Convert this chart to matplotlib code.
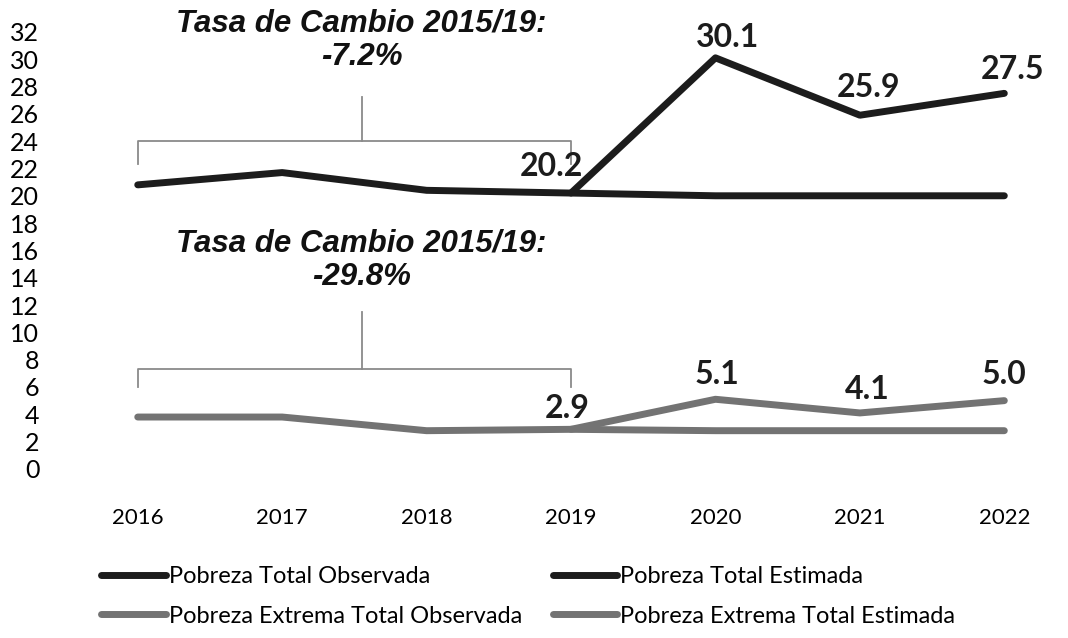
import numpy as np
import matplotlib.pyplot as plt

# data
years = [2016, 2017, 2018, 2019, 2020, 2021, 2022]
total_obs = [20.8, 21.7, 20.4, 20.2, 20.0, 20.0, 20.0]
total_est = [np.nan, np.nan, np.nan, 20.2, 30.1, 25.9, 27.5]
ext_obs = [3.8, 3.8, 2.8, 2.9, 2.8, 2.8, 2.8]
ext_est = [np.nan, np.nan, np.nan, 2.9, 5.1, 4.1, 5.0]
yticks = list(range(0, 33, 2))

dark = '#1c1c1c'
gray = '#737373'

plt.rcParams['font.family'] = ['Lato', 'DejaVu Sans']

fig = plt.figure(figsize=(10.68, 6.38), dpi=100)
ax = fig.add_axes([0.055, 0.265, 0.935, 0.685])

l1, = ax.plot(years, total_obs, color=dark, lw=5, solid_capstyle='round')
l2, = ax.plot(years, total_est, color=dark, lw=5, solid_capstyle='round')
l3, = ax.plot(years, ext_obs, color=gray, lw=5, solid_capstyle='round')
l4, = ax.plot(years, ext_est, color=gray, lw=5, solid_capstyle='round')

# data labels (offsets in points)
lab_kw = dict(textcoords='offset points', ha='center', va='baseline', fontsize=23,
              fontweight='bold', color=dark)
tot_off = {3: (-14, 12), 4: (9, 8), 5: (6, 13), 6: (6, 10)}
ext_off = {3: (-3, 8), 4: (1, 11), 5: (5, 10), 6: (0, 12)}
for i, off in tot_off.items():
    ax.annotate(f'{total_est[i]:.1f}', (years[i], total_est[i]), xytext=off, **lab_kw)
for i, off in ext_off.items():
    ax.annotate(f'{ext_est[i]:.1f}', (years[i], ext_est[i]), xytext=off, **lab_kw)

# brackets and change-rate notes
def bracket(y_bar, y_end, y_top):
    ax.plot([2016, 2016, 2019, 2019], [y_end, y_bar, y_bar, y_end], color='#8a8a8a', lw=1.3)
    ax.plot([2017.55, 2017.55], [y_bar, y_top], color='#8a8a8a', lw=1.3)

bracket(24.0, 22.3, 27.2)
bracket(7.3, 6.0, 11.5)
note_kw = dict(ha='center', va='center', fontsize=22.5, fontweight='bold', fontstyle='italic',
               family='Liberation Sans', linespacing=1.15, color='#111111')
ax.text(2017.55, 31.4, 'Tasa de Cambio 2015/19:\n-7.2%', **note_kw)
ax.text(2017.55, 15.3, 'Tasa de Cambio 2015/19:\n-29.8%', **note_kw)

ax.set_xlim(2015.453, 2022.367)
ax.set_ylim(0, 32)
ax.set_yticks(yticks)
ax.set_xticks(years)
ax.tick_params(axis='y', length=0, pad=14, labelsize=18)
ax.tick_params(axis='x', length=0, pad=28, labelsize=16)
for s in ax.spines.values():
    s.set_visible(False)

fig.legend([l1, l3, l2, l4],
           ['Pobreza Total Observada', 'Pobreza Extrema Total Observada',
            'Pobreza Total Estimada', 'Pobreza Extrema Total Estimada'],
           ncol=2, loc='upper left', bbox_to_anchor=(0.086, 0.128), frameon=False,
           fontsize=17, handlelength=2.75, handletextpad=0.1, columnspacing=1.3,
           labelspacing=0.8, borderaxespad=0)

fig.savefig('out.png', dpi=100)
